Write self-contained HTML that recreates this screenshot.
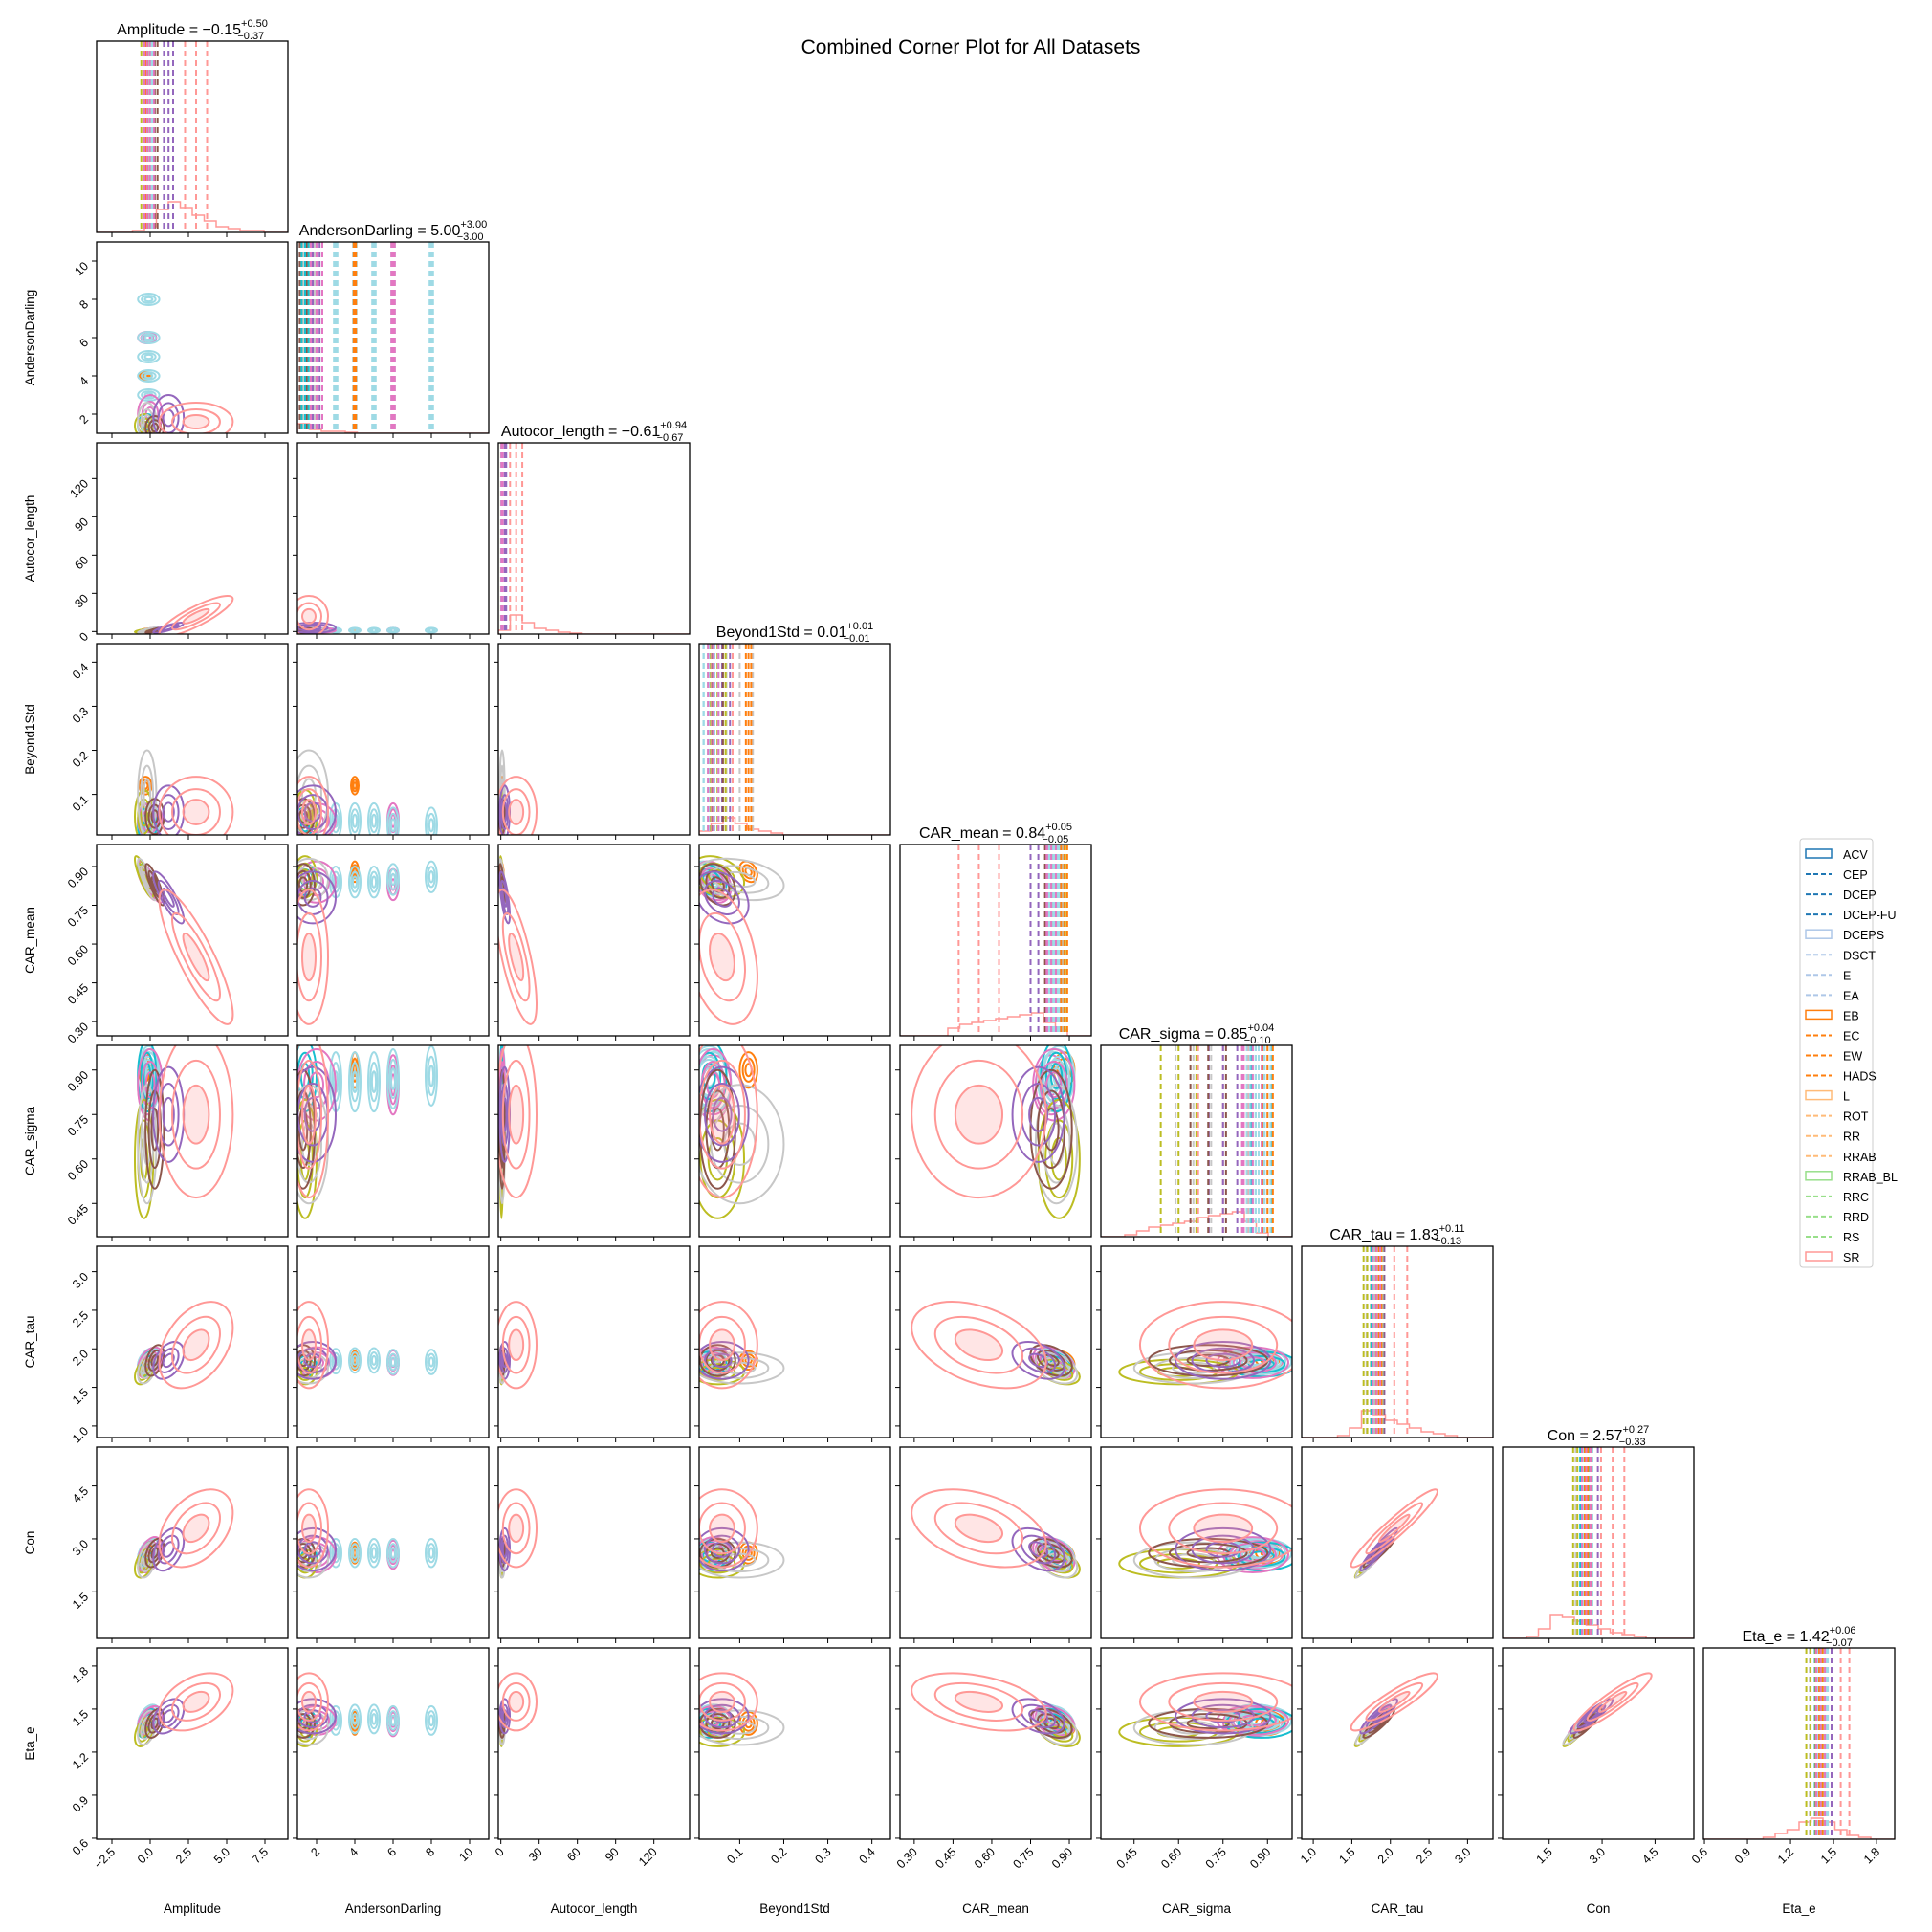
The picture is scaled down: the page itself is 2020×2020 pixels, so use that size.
<!DOCTYPE html>
<html><head><meta charset="utf-8"><style>
html,body{margin:0;padding:0;background:#fff;}
svg{display:block;font-family:"Liberation Sans","DejaVu Sans",sans-serif;}
</style></head><body>
<svg id="fig" width="2020" height="2020" viewBox="0 0 2020 2020" xmlns="http://www.w3.org/2000/svg">
<rect width="2020" height="2020" fill="#fff"/>
<text x="1015" y="56" font-size="21" text-anchor="middle">Combined Corner Plot for All Datasets</text>
</svg>
<script>
const varNames=['Amplitude','AndersonDarling','Autocor_length','Beyond1Std','CAR_mean','CAR_sigma','CAR_tau','Con','Eta_e'];
const varLo=[-3.5,1.0,-2,0.008,0.245,0.338,0.85,0.18,0.593];
const varHi=[9.0,11.0,148,0.442,0.985,0.983,3.33,5.6,1.926];
const varTicks=[[-2.5,0,2.5,5,7.5],[2,4,6,8,10],[0,30,60,90,120],[0.1,0.2,0.3,0.4],[0.30,0.45,0.60,0.75,0.90],[0.45,0.60,0.75,0.90],[1.0,1.5,2.0,2.5,3.0],[1.5,3.0,4.5],[0.6,0.9,1.2,1.5,1.8]];
const tickLabels=[['−2.5','0.0','2.5','5.0','7.5'],['2','4','6','8','10'],['0','30','60','90','120'],['0.1','0.2','0.3','0.4'],['0.30','0.45','0.60','0.75','0.90'],['0.45','0.60','0.75','0.90'],['1.0','1.5','2.0','2.5','3.0'],['1.5','3.0','4.5'],['0.6','0.9','1.2','1.5','1.8']];
const titleMed=['−0.15','5.00','−0.61','0.01','0.84','0.85','1.83','2.57','1.42'];
const titlePlus=['+0.50','+3.00','+0.94','+0.01','+0.05','+0.04','+0.11','+0.27','+0.06'];
const titleMinus=['−0.37','−3.00','−0.67','−0.01','−0.05','−0.10','−0.13','−0.33','−0.07'];
const dsColor=['#ff9896','#9467bd','#8c564b','#c7c7c7','#bcbd22','#e377c2','#17becf','#9edae5','#9edae5','#9edae5','#9edae5','#9edae5','#ff7f0e','#e377c2'];
const dsMed=[
[3.0,1.6,12,0.06,0.55,0.75,2.05,3.3,1.55],
[1.2,1.8,3,0.06,0.78,0.75,1.85,2.7,1.45],
[0.3,1.3,1,0.05,0.83,0.70,1.85,2.6,1.40],
[-0.2,1.6,1,0.10,0.85,0.65,1.75,2.4,1.37],
[-0.4,1.4,0.5,0.05,0.86,0.60,1.70,2.3,1.34],
[0.0,2.0,1,0.04,0.84,0.85,1.82,2.55,1.42],
[-0.2,1.4,0.8,0.03,0.85,0.88,1.80,2.5,1.40],
[-0.1,8,1,0.03,0.86,0.88,1.83,2.6,1.42],
[-0.1,6,1,0.03,0.85,0.87,1.83,2.6,1.42],
[-0.1,5,1,0.04,0.84,0.86,1.85,2.6,1.43],
[-0.1,4,1,0.04,0.84,0.86,1.85,2.6,1.43],
[-0.1,3,1,0.04,0.84,0.86,1.84,2.6,1.42],
[-0.3,4,1,0.12,0.88,0.90,1.85,2.6,1.40],
[-0.2,6,1,0.04,0.83,0.85,1.82,2.55,1.41]];
const dsSd=[
[1.2,0.5,8,0.04,0.13,0.14,0.28,0.55,0.10],
[0.5,0.6,2,0.03,0.05,0.08,0.12,0.30,0.06],
[0.3,0.3,1,0.02,0.04,0.10,0.10,0.20,0.05],
[0.3,0.5,1,0.05,0.04,0.10,0.10,0.25,0.06],
[0.3,0.3,0.5,0.03,0.04,0.10,0.08,0.20,0.05],
[0.4,0.5,1,0.02,0.04,0.06,0.10,0.25,0.05],
[0.3,0.3,0.5,0.02,0.03,0.06,0.08,0.20,0.05],
[0.35,0.15,1,0.02,0.03,0.05,0.08,0.20,0.05],
[0.35,0.15,1,0.02,0.03,0.05,0.08,0.20,0.05],
[0.35,0.15,1,0.02,0.03,0.05,0.08,0.20,0.05],
[0.35,0.15,1,0.02,0.03,0.05,0.08,0.20,0.05],
[0.35,0.15,1,0.02,0.03,0.05,0.08,0.20,0.05],
[0.2,0.1,0.5,0.01,0.02,0.03,0.06,0.15,0.04],
[0.3,0.15,1,0.02,0.03,0.05,0.08,0.20,0.05]];
const corrPairs=[[0,2,0.85],[0,4,-0.85],[0,6,0.4],[0,7,0.4],[0,8,0.4],[6,7,0.95],[6,8,0.9],[7,8,0.92],[2,4,-0.7],[4,6,-0.4],[4,7,-0.4],[4,8,-0.4],[3,4,-0.3]];
const srHist=[
[0,0,0,0.01,0.03,0.12,0.16,0.13,0.09,0.06,0.03,0.02,0.01,0.01,0,0],
[0.05,0.02,0.01,0.01,0.005,0,0,0,0,0,0,0,0,0,0,0],
[0.02,0.10,0.06,0.03,0.02,0.01,0.005,0,0,0,0,0,0,0,0,0],
[0.02,0.06,0.09,0.06,0.03,0.02,0.01,0,0,0,0,0,0,0,0,0],
[0,0,0,0,0.04,0.06,0.07,0.08,0.09,0.10,0.11,0.12,0.07,0.03,0,0],
[0,0,0.01,0.03,0.05,0.06,0.07,0.08,0.10,0.11,0.12,0.13,0.08,0.02,0,0],
[0,0,0,0.01,0.05,0.14,0.12,0.09,0.07,0.05,0.03,0.02,0.01,0,0,0],
[0,0,0.01,0.05,0.12,0.11,0.09,0.07,0.05,0.03,0.02,0.01,0,0,0,0],
[0,0,0,0,0,0.01,0.03,0.05,0.09,0.11,0.09,0.05,0.02,0.01,0,0]];
const legendNames=['ACV','CEP','DCEP','DCEP-FU','DCEPS','DSCT','E','EA','EB','EC','EW','HADS','L','ROT','RR','RRAB','RRAB_BL','RRC','RRD','RS','SR'];
const legendColors=['#1f77b4','#1f77b4','#1f77b4','#1f77b4','#aec7e8','#aec7e8','#aec7e8','#aec7e8','#ff7f0e','#ff7f0e','#ff7f0e','#ff7f0e','#ffbb78','#ffbb78','#ffbb78','#ffbb78','#98df8a','#98df8a','#98df8a','#98df8a','#ff9896'];
const legendBox=[1,0,0,0,1,0,0,0,1,0,0,0,1,0,0,0,1,0,0,0,1];

const NS='http://www.w3.org/2000/svg',svg=document.getElementById('fig');
const P0X=101,P0Y=43,STEP=210,SZ=200,N=9;
function mk(tag,attrs,parent){const e=document.createElementNS(NS,tag);for(const k in attrs)e.setAttribute(k,attrs[k]);(parent||svg).appendChild(e);return e;}
function px(i,v){return P0X+STEP*i+(v-varLo[i])/(varHi[i]-varLo[i])*SZ;}
function py(j,v){return P0Y+STEP*j+SZ-(v-varLo[j])/(varHi[j]-varLo[j])*SZ;}
function corr(a,b){for(const c of corrPairs){if((c[0]===a&&c[1]===b)||(c[0]===b&&c[1]===a))return c[2];}return 0;}
const defs=mk('defs',{});

for(let j=0;j<N;j++){for(let i=0;i<=j;i++){
  const x0=P0X+STEP*i,y0=P0Y+STEP*j;
  const g=mk('g',{});
  
  
  const cp=mk('clipPath',{id:'c'+i+'_'+j},defs);mk('rect',{x:x0,y:y0,width:SZ,height:SZ},cp);
  const inner=mk('g',{'clip-path':'url(#c'+i+'_'+j+')'},g);
  if(i===j){
    const h=srHist[i],nb=h.length;let d='M'+x0+','+(y0+SZ);
    for(let b=0;b<nb;b++){const xa=x0+b*SZ/nb,xb=x0+(b+1)*SZ/nb,yy=y0+SZ-h[b]*SZ;d+=' L'+xa+','+yy+' L'+xb+','+yy;}
    d+=' L'+(x0+SZ)+','+(y0+SZ);
    const hp=mk('path',{d:d,fill:'none',stroke:'#ff9896','stroke-width':1.5},inner);
    
    
    for(let k=0;k<dsMed.length;k++){
      for(const q of [-1,0,1]){
        const xv=px(i,dsMed[k][i]+q*dsSd[k][i]*0.6);
        const ln=mk('line',{x1:xv,x2:xv,y1:y0,y2:y0+SZ,stroke:dsColor[k],'stroke-width':2,'stroke-dasharray':'6,4'},inner);
        
        
      }
    }
    const t=mk('text',{x:x0+SZ/2,y:y0-7,'font-size':16,'text-anchor':'middle'},svg);
    
    
    t.appendChild(document.createTextNode(varNames[i]+' = '+titleMed[i]));
    const s1=mk('tspan',{'font-size':11,dy:-8},t);s1.textContent=titlePlus[i];
    const w=titlePlus[i].length*6.3;
    const s2=mk('tspan',{'font-size':11,dx:-w,dy:13},t);s2.textContent=titleMinus[i];
  }else{
    for(let k=dsMed.length-1;k>=0;k--){
      const cx=px(i,dsMed[k][i]),cy=py(j,dsMed[k][j]);
      const sx=dsSd[k][i]/(varHi[i]-varLo[i])*SZ,sy=dsSd[k][j]/(varHi[j]-varLo[j])*SZ;
      const r=corr(i,j),a=sx*sx,c=sy*sy,b=-r*sx*sy;
      const ang=0.5*Math.atan2(2*b,a-c)*180/Math.PI;
      const m=(a+c)/2,dd=Math.sqrt(((a-c)/2)**2+b*b);
      const l1=Math.sqrt(m+dd),l2=Math.sqrt(Math.max(m-dd,0.5));
      [0.7,1.3,2.0].forEach((lv,li)=>{
        const e=mk('ellipse',{cx:cx,cy:cy,rx:Math.max(lv*l1,1.5),ry:Math.max(lv*l2,1.5),transform:'rotate('+ang+' '+cx+' '+cy+')',fill:(k===0&&li===0)?'rgba(255,152,150,0.25)':'none',stroke:dsColor[k],'stroke-width':2},inner);
        
        
      });
    }
  }
  mk('rect',{x:x0,y:y0,width:SZ,height:SZ,fill:'none',stroke:'#000','stroke-width':1.3},g);
  varTicks[i].forEach((tv,ti)=>{const xv=px(i,tv);mk('line',{x1:xv,x2:xv,y1:y0+SZ,y2:y0+SZ+5,stroke:'#000','stroke-width':1},g);
    if(j===N-1){const tl=mk('text',{x:xv+4,y:y0+SZ+14,'font-size':12.5,'text-anchor':'end',transform:'rotate(-45 '+(xv+4)+' '+(y0+SZ+14)+')'},g);tl.textContent=tickLabels[i][ti];}});
  if(i!==j){varTicks[j].forEach((tv,ti)=>{const yv=py(j,tv);mk('line',{x1:x0-5,x2:x0,y1:yv,y2:yv,stroke:'#000','stroke-width':1},g);
    if(i===0){const tl=mk('text',{x:x0-8,y:yv+6,'font-size':12.5,'text-anchor':'end',transform:'rotate(-45 '+(x0-8)+' '+(yv+6)+')'},g);tl.textContent=tickLabels[j][ti];}});}
}}
for(let i=0;i<N;i++){
  const xl=mk('text',{x:P0X+STEP*i+SZ/2,y:2000,'font-size':13.5,'text-anchor':'middle'});
  
  
  xl.textContent=varNames[i];
  if(i>0){const yc=P0Y+STEP*i+SZ/2;const yl=mk('text',{x:36,y:yc,'font-size':13.5,'text-anchor':'middle',transform:'rotate(-90 36 '+yc+')'});
    
    
    yl.textContent=varNames[i];}
}
const lg=mk('g',{});


mk('rect',{x:1882,y:877,width:76,height:448,rx:3,fill:'#fff',stroke:'#ccc','stroke-width':1},lg);
legendNames.forEach((n,k)=>{
  const yy=893+k*21.05;
  const eg=mk('g',{},lg);
  
  
  if(legendBox[k])mk('rect',{x:1888,y:yy-5,width:27,height:9,fill:'none',stroke:legendColors[k],'stroke-width':1.5},eg);
  else mk('line',{x1:1888,x2:1915,y1:yy,y2:yy,stroke:legendColors[k],'stroke-width':2,'stroke-dasharray':'5,3'},eg);
  const t=mk('text',{x:1927,y:yy+5,'font-size':12.5},eg);t.textContent=n;
});
</script>
</body></html>
